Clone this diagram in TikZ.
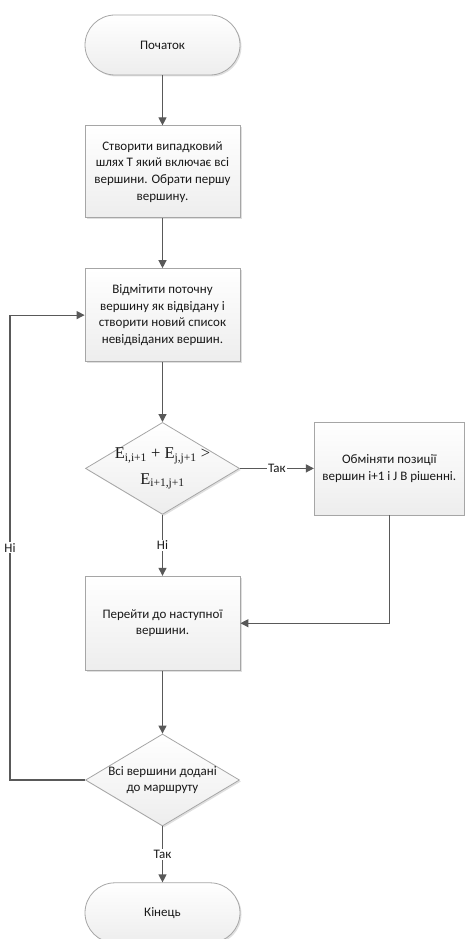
\documentclass[tikz,border=0pt]{standalone}
\usepackage{fontspec}
\setmainfont{Carlito}
\newfontfamily\tnr{Liberation Serif}
\usetikzlibrary{positioning,
                shapes.geometric,
                arrows.meta,
                shadows}
\tikzset{flowbase/.style = {
            draw=gray!70,
            line width=0.8pt,
            top color=white,
            bottom color=gray!14,
            drop shadow={opacity=0.25,shadow xshift=1.5pt,shadow yshift=-1.5pt},
            align=center,
            font=\fontsize{13}{16.7}\selectfont,
            text=black!90
         },
         termnode/.style = {
            flowbase,
            rectangle,
            rounded corners=30pt,
            minimum width=155pt,
            minimum height=60pt
         },
         stepnode/.style = {
            flowbase,
            rectangle,
            inner sep=2pt,
            minimum width=155pt,
            minimum height=#1
         },
         decnode/.style = {
            flowbase,
            diamond,
            aspect=1.67,
            inner sep=-8pt,
            minimum width=154pt,
            minimum height=92pt
         },
         flowline/.style = {
            draw=black!65,
            line width=1.2pt
         },
         flowarrow/.style = {
            flowline,
            -{Triangle[width=8pt,length=8pt]}
         },
         answer/.style = {
            fill=white,
            inner sep=1pt,
            font=\fontsize{13}{15}\selectfont,
            text=black!90
         }
        }
\newcommand{\edge}[2]{E\textsubscript{#1,#2}}

\begin{document}
\begin{tikzpicture}[x=1pt,y=1pt]
        \useasboundingbox (0,0) rectangle (465,-939);
        \node[termnode] (start) at (162.5,-45) {Початок};
        \node[stepnode=92pt,below = 50pt of start] (init) {Створити випадковий\\шлях T який включає всі\\вершини. Обрати першу\\вершину.};
        \node[stepnode=93pt,below = 50pt of init] (mark) {Відмітити поточну\\вершину як відвідану і\\створити новий список\\невідвіданих вершин.};
        \node[decnode,below = 60pt of mark] (check) {\tnr\fontsize{16.5}{27}\selectfont \edge{i}{i+1} + \edge{j}{j+1} >\\[9pt]\tnr\fontsize{16.5}{27}\selectfont \edge{i+1}{j+1}};
        \node[stepnode=93pt,minimum width=150pt,right = 74pt of check] (swap) {Обміняти позиції\\вершин i+1 і J В рішенні.};
        \node[stepnode=94pt,below = 61pt of check] (next) {Перейти до наступної\\вершини.};
        \node[decnode,below = 63pt of next] (done) {Всі вершини додані\\до маршруту};
        \node[termnode,below = 56pt of done] (finish) {Кінець};
        \coordinate (loopx) at (10,0);

        \path[flowarrow] (start) -- (init);
        \path[flowarrow] (init) -- (mark);
        \path[flowarrow] (mark) -- (check);
        \path[flowarrow] (check) -- node[answer]{Так} (swap);
        \path[flowarrow] (check) -- node[answer]{Ні} (next);
        \path[flowarrow] (swap.south) |- (next.east);
        \path[flowarrow] (next) -- (done);
        \path[flowarrow] (done) -- node[answer]{Так} (finish);
        \path[flowarrow] (done.west) -- (done.west -| loopx) -- node[answer]{Ні} (mark.west -| loopx) -- (mark.west);
    \end{tikzpicture}
\end{document}
